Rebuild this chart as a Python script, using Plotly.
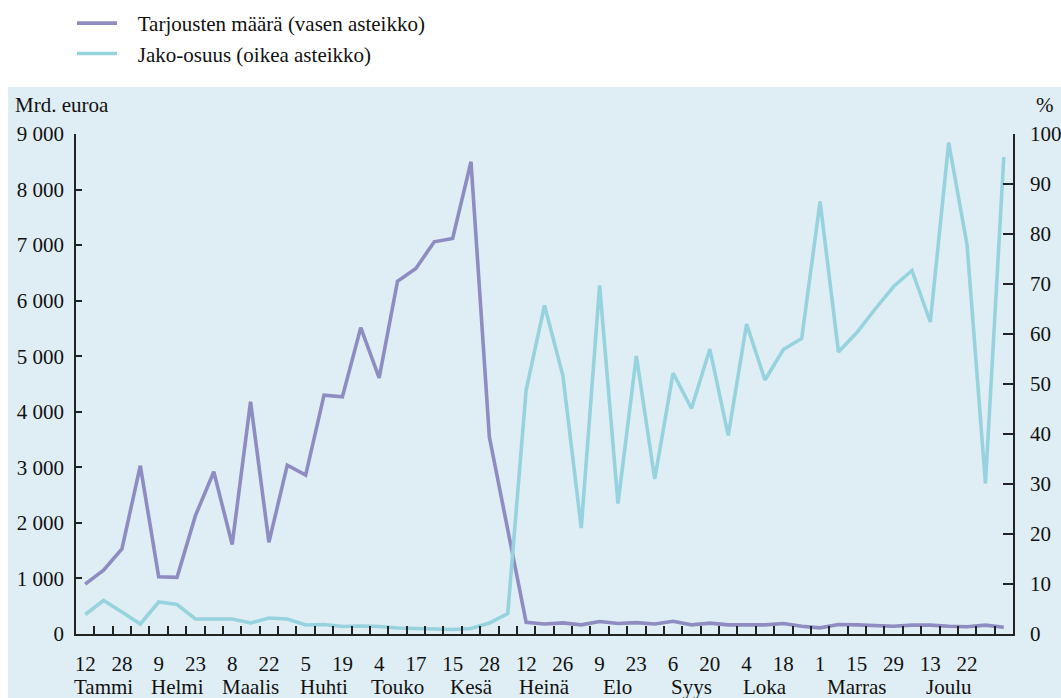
import plotly.graph_objects as go

# ---- data ----
tarjoukset = [897, 1150, 1530, 3030, 1030, 1020, 2130, 2920, 1610, 4180,
              1650, 3040, 2860, 4300, 4270, 5515, 4610, 6350, 6580, 7060,
              7120, 8500, 3545, 1870, 210, 180, 200, 165, 225, 190,
              205, 180, 230, 165, 195, 165, 170, 165, 190, 140,
              110, 170, 165, 160, 140, 160, 160, 140, 130, 160, 120]
jako_osuus = [3.9, 6.7, 4.4, 2.0, 6.4, 5.9, 3.0, 3.0, 3.0, 2.2,
              3.2, 3.0, 1.8, 1.9, 1.5, 1.6, 1.5, 1.2, 1.1, 1.1,
              0.9, 1.1, 2.2, 4.1, 48.8, 65.7, 51.7, 21.2, 69.7, 26.1,
              55.6, 31.0, 52.2, 45.1, 57.0, 39.7, 62.0, 50.8, 56.9, 59.1,
              86.5, 56.4, 60.3, 65.0, 69.5, 72.7, 62.4, 98.3, 77.8, 30.1, 95.4]
day_labels = ["12", "28", "9", "23", "8", "22", "5", "19", "4", "17", "15", "28",
              "12", "26", "9", "23", "6", "20", "4", "18", "1", "15", "29", "13", "22"]
months = ["Tammi", "Helmi", "Maalis", "Huhti", "Touko", "Kesä", "Heinä",
          "Elo", "Syys", "Loka", "Marras", "Joulu"]
month_pos = [1, 5, 9, 13, 17, 21, 25, 29, 33, 37, 42, 47]
left_ticks = [0, 1000, 2000, 3000, 4000, 5000, 6000, 7000, 8000, 9000]
left_text = ["0", "1 000", "2 000", "3 000", "4 000", "5 000", "6 000", "7 000", "8 000", "9 000"]
right_ticks = [0, 10, 20, 30, 40, 50, 60, 70, 80, 90, 100]

PURPLE = "#8f8cc2"
CYAN = "#97d3de"
BG = "#dfeef4"
FONT = "Liberation Serif"
NB = "\u00a0\u00a0\u00a0"

x = list(range(len(tarjoukset)))

fig = go.Figure()
fig.add_trace(go.Scatter(x=x, y=tarjoukset, mode="lines", name=NB + "Tarjousten määrä (vasen asteikko)",
                         line=dict(color=PURPLE, width=3.6), yaxis="y"))
fig.add_trace(go.Scatter(x=x, y=jako_osuus, mode="lines", name=NB + "Jako-osuus (oikea asteikko)",
                         line=dict(color=CYAN, width=3.6), yaxis="y2"))

W, H = 1061, 698
L, R, T, B = 76, 48, 134, 64
pw, ph = W - L - R, H - T - B

def px_x(p):
    return (p - L) / pw

def px_y(p):
    return (H - B - p) / ph

annotations = []
for m, pos in zip(months, month_pos):
    annotations.append(dict(x=pos, y=px_y(687), xref="x", yref="paper", text=m,
                            showarrow=False, xanchor="center", yanchor="middle",
                            font=dict(family=FONT, size=21, color="#111")))
annotations.append(dict(x=px_x(13), y=px_y(105), xref="paper", yref="paper", text="Mrd. euroa",
                        showarrow=False, xanchor="left", yanchor="middle",
                        font=dict(family=FONT, size=21, color="#111")))
annotations.append(dict(x=px_x(1045), y=px_y(105), xref="paper", yref="paper", text="%",
                        showarrow=False, xanchor="center", yanchor="middle",
                        font=dict(family=FONT, size=21, color="#111")))

shapes = [dict(type="rect", xref="paper", yref="paper", x0=px_x(8), x1=px_x(1061 + 5),
               y0=px_y(698 + 5), y1=px_y(87), fillcolor=BG, line=dict(width=0), layer="below")]

fig.update_layout(
    width=W, height=H,
    margin=dict(l=L, r=R, t=T, b=B, autoexpand=False),
    paper_bgcolor="white", plot_bgcolor=BG,
    font=dict(family=FONT, size=21, color="#111"),
    showlegend=True,
    legend=dict(xref="container", yref="container", x=72 / W, y=1.0 - 3 / H,
                xanchor="left", yanchor="top",
                bgcolor="rgba(0,0,0,0)", font=dict(family=FONT, size=21, color="#111"),
                itemwidth=40, tracegroupgap=0),
    xaxis=dict(range=[-0.5, len(x) - 0.5], showgrid=False, zeroline=False, automargin=False,
               tickmode="array", tickvals=x[0:2 * len(day_labels):2], ticktext=day_labels,
               ticks="", ticklabelstandoff=10, showline=True, linecolor="#222", linewidth=1.5,
               tickfont=dict(family=FONT, size=21, color="#111"),
               minor=dict(tickmode="array", tickvals=[i + 0.5 for i in x[:-1]], ticks="inside",
                          ticklen=8, tickwidth=1.5, tickcolor="#222")),
    yaxis=dict(range=[0, 9000], tickmode="array", tickvals=left_ticks, ticktext=left_text,
               showgrid=False, zeroline=False, ticks="inside", ticklen=6, tickwidth=1.5,
               tickcolor="#222", showline=True, linecolor="#222", linewidth=1.5, automargin=False,
               ticklabelstandoff=6, tickfont=dict(family=FONT, size=21, color="#111")),
    yaxis2=dict(range=[0, 100], overlaying="y", side="right", tickmode="array",
                tickvals=right_ticks, showgrid=False, zeroline=False, ticks="inside",
                ticklen=10, tickwidth=1.5, tickcolor="#222", showline=True, linecolor="#222",
                linewidth=1.5, ticklabelstandoff=11, automargin=False,
                tickfont=dict(family=FONT, size=21, color="#111")),
    annotations=annotations,
    shapes=shapes,
)

fig.write_html("out.html", config={"displayModeBar": False},
               post_script="document.body.style.margin='0';")
